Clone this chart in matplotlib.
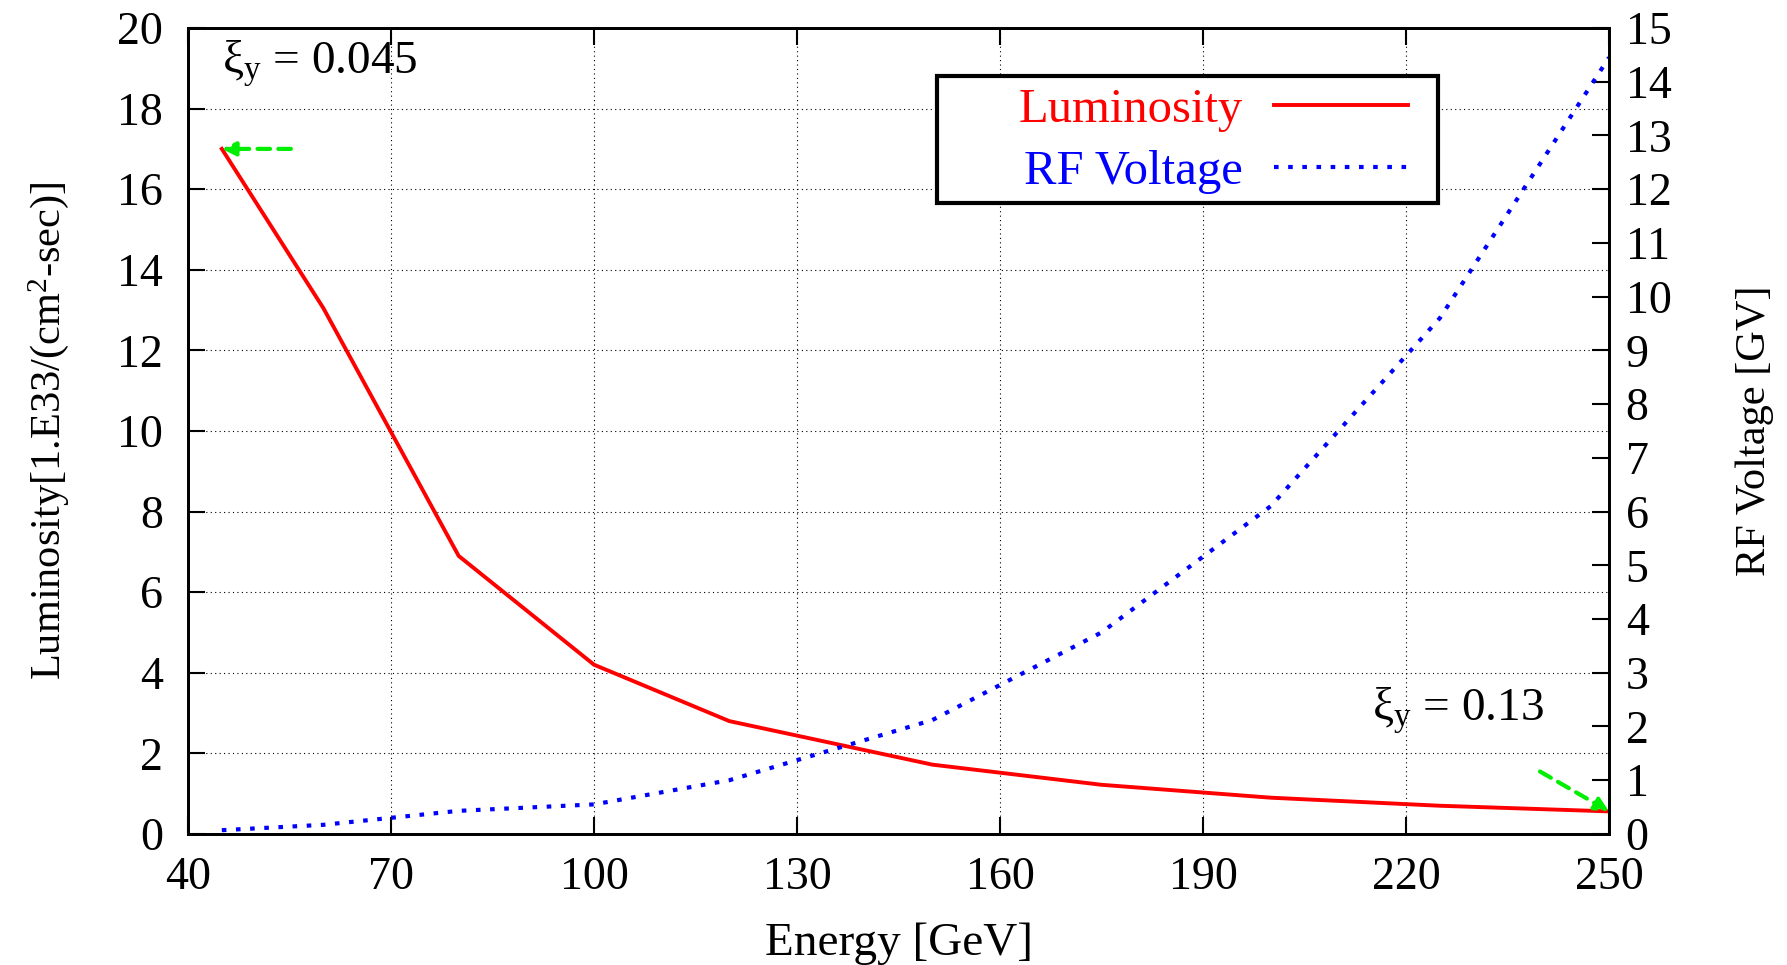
import matplotlib
matplotlib.use("Agg")
import matplotlib.pyplot as plt
from matplotlib.patches import Rectangle

energy = [45, 60, 80, 100, 120, 150, 175, 200, 225, 250]
luminosity = [17.0, 13.05, 6.9, 4.2, 2.8, 1.72, 1.22, 0.9, 0.7, 0.56]
rf_energy = [45, 60, 70, 80, 100, 120, 150, 175, 200, 225, 250]
rf_voltage = [0.07, 0.17, 0.3, 0.43, 0.55, 1.0, 2.12, 3.75, 6.1, 9.6, 14.45]

x_ticks = [40, 70, 100, 130, 160, 190, 220, 250]
y_left_ticks = list(range(0, 21, 2))
y_right_ticks = list(range(0, 16))

plt.rcParams['font.family'] = ['Liberation Serif', 'DejaVu Serif']
plt.rcParams['mathtext.fontset'] = 'custom'
plt.rcParams['mathtext.rm'] = 'Liberation Serif'
plt.rcParams['mathtext.it'] = 'Liberation Serif:italic'

fs = 33
fig = plt.figure(figsize=(17.87, 9.65), dpi=100)
ax = fig.add_subplot(111)
fig.subplots_adjust(left=0.1052, right=0.9004, top=0.971, bottom=0.1358)
ax2 = ax.twinx()

l1, = ax.plot(energy, luminosity, color='#ff0000', lw=2.8, label='Luminosity')
l2, = ax2.plot(rf_energy, rf_voltage, color='#0000ff', lw=3.0, dashes=(1.1, 2.3),
               label='RF Voltage')

ax.set_xlim(40, 250)
ax.set_ylim(0, 20)
ax2.set_ylim(0, 15)
ax.set_xticks(x_ticks)
ax.set_yticks(y_left_ticks)
ax2.set_yticks(y_right_ticks)

ax.grid(True, color='black', linestyle=(0, (1, 3)), lw=0.8)
ax.tick_params(direction='in', length=12, width=1.5, labelsize=fs, top=True)
ax.tick_params(axis='x', pad=16)
ax.tick_params(axis='y', pad=18)
ax2.tick_params(direction='in', length=12, width=1.5, labelsize=fs, pad=12)
for a in (ax, ax2):
    for s in a.spines.values():
        s.set_linewidth(2)

ax.set_xlabel('Energy [GeV]', fontsize=34)
ax.set_ylabel(r'Luminosity[1.E33/(cm$^2$-sec)]', fontsize=30.5)
ax2.set_ylabel('RF Voltage [GV]', fontsize=30.5)
ax.xaxis.set_label_coords(0.5, -0.11)
ax.yaxis.set_label_coords(-0.082, 0.5)
ax2.yaxis.set_label_coords(1.0887, 0.5)

ax.text(45, 19.1, r'ξ$_{\rm y}$ = 0.045', fontsize=34, va='center', ha='left')
ax.text(215, 3.05, r'ξ$_{\rm y}$ = 0.13', fontsize=34, va='center', ha='left')

arrow_kw = dict(arrowstyle='-|>', linestyle=(0, (3, 2)), color='#00ee00', lw=3,
                mutation_scale=20, shrinkA=0, shrinkB=0)
ax.annotate('', xy=(energy[0], luminosity[0]), xytext=(55.2, luminosity[0]),
            arrowprops=arrow_kw)
ax.annotate('', xy=(energy[-1], luminosity[-1]), xytext=(239.8, 1.55),
            arrowprops=arrow_kw)

# legend box (frame drawn separately for exact placement)
frame = Rectangle((0.527, 0.783), 0.353, 0.157, transform=ax2.transAxes,
                  facecolor='white', edgecolor='black', lw=3, zorder=4)
ax2.add_patch(frame)
leg = ax2.legend([l1, l2], ['Luminosity', 'RF Voltage'], loc='center right',
                 bbox_to_anchor=(0.8586, 0.860), markerfirst=False,
                 fontsize=35, frameon=False, handlelength=2.75,
                 borderpad=0, labelspacing=0.36, handletextpad=0.65,
                 borderaxespad=0)
leg.set_zorder(5)
leg.texts[0].set_color('#ff0000')
leg.texts[1].set_color('#0000ff')

fig.savefig('out.png', dpi=100)
